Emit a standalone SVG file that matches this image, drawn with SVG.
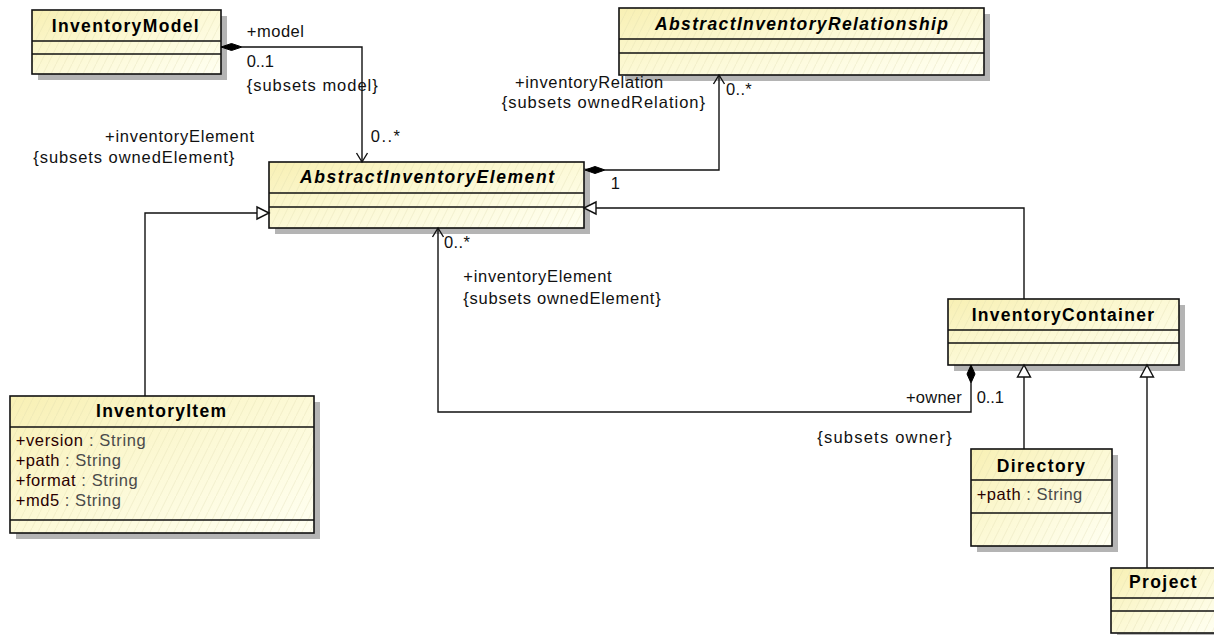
<svg xmlns="http://www.w3.org/2000/svg" width="1214" height="635" viewBox="0 0 1214 635">
<defs>
<linearGradient id="fillG" x1="0" y1="0" x2="1" y2="1">
<stop offset="0" stop-color="#f8f0b4"/>
<stop offset="0.5" stop-color="#fcf9d6"/>
<stop offset="1" stop-color="#fffff2"/>
</linearGradient>
<pattern id="hatch" patternUnits="userSpaceOnUse" width="8" height="16">
<path d="M0,16 L8,0" stroke="#dcd6a8" stroke-width="0.6" fill="none" opacity="0.55"/>
</pattern>
<style>
.shadow{fill:#b4b4b4;}
.bg{fill:url(#fillG);}
.hatch{fill:url(#hatch);}
.frame{fill:none;stroke:#111;stroke-width:1.6;}
.sep{stroke:#111;stroke-width:1.4;}
.title{font-family:"Liberation Sans",Arial,sans-serif;font-size:17.5px;font-weight:bold;fill:#000;}
.it{font-style:italic;}
.lbl{font-family:"Liberation Sans",Arial,sans-serif;font-size:16.5px;fill:#111;}
.an{fill:#2a0000;}
.at{fill:#4a4a4a;}
.line{fill:none;stroke:#111;stroke-width:1.4;}
.dia{fill:#000;stroke:#000;stroke-width:1;}
.tri{fill:#fff;stroke:#111;stroke-width:1.4;}
</style>
</defs>

<g id="InventoryModel">
<rect class="shadow" x="38" y="16" width="189" height="64"/>
<rect class="bg" x="32" y="10" width="189" height="64"/>
<rect class="hatch" x="32" y="10" width="189" height="64"/>
<line class="sep" x1="32" y1="41" x2="221" y2="41"/>
<line class="sep" x1="32" y1="54" x2="221" y2="54"/>
<rect class="frame" x="32" y="10" width="189" height="64"/>
<text class="title" x="51.7" y="31.7" textLength="147" lengthAdjust="spacing">InventoryModel</text>
</g>

<g id="AbstractInventoryRelationship">
<rect class="shadow" x="625" y="14" width="365" height="67"/>
<rect class="bg" x="619" y="8" width="365" height="67"/>
<rect class="hatch" x="619" y="8" width="365" height="67"/>
<line class="sep" x1="619" y1="39" x2="984" y2="39"/>
<line class="sep" x1="619" y1="53" x2="984" y2="53"/>
<rect class="frame" x="619" y="8" width="365" height="67"/>
<text class="title it" x="655" y="30" textLength="293" lengthAdjust="spacing">AbstractInventoryRelationship</text>
</g>

<g id="AbstractInventoryElement">
<rect class="shadow" x="275" y="168" width="315" height="66"/>
<rect class="bg" x="269" y="162" width="315" height="66"/>
<rect class="hatch" x="269" y="162" width="315" height="66"/>
<line class="sep" x1="269" y1="193" x2="584" y2="193"/>
<line class="sep" x1="269" y1="207" x2="584" y2="207"/>
<rect class="frame" x="269" y="162" width="315" height="66"/>
<text class="title it" x="300" y="183.3" textLength="254" lengthAdjust="spacing">AbstractInventoryElement</text>
</g>

<g id="InventoryContainer">
<rect class="shadow" x="954" y="305" width="231" height="66"/>
<rect class="bg" x="948" y="299" width="231" height="66"/>
<rect class="hatch" x="948" y="299" width="231" height="66"/>
<line class="sep" x1="948" y1="330" x2="1179" y2="330"/>
<line class="sep" x1="948" y1="343" x2="1179" y2="343"/>
<rect class="frame" x="948" y="299" width="231" height="66"/>
<text class="title" x="971.7" y="320.7" textLength="182.3" lengthAdjust="spacing">InventoryContainer</text>
</g>

<g id="InventoryItem">
<rect class="shadow" x="16" y="402" width="304" height="137"/>
<rect class="bg" x="10" y="396" width="304" height="137"/>
<rect class="hatch" x="10" y="396" width="304" height="137"/>
<line class="sep" x1="10" y1="427" x2="314" y2="427"/>
<line class="sep" x1="10" y1="520" x2="314" y2="520"/>
<rect class="frame" x="10" y="396" width="304" height="137"/>
<text class="title" x="96" y="416.7" textLength="130" lengthAdjust="spacing">InventoryItem</text>
<text class="lbl" x="15.7" y="446" textLength="130" lengthAdjust="spacing"><tspan class="an">+version</tspan><tspan class="at"> : String</tspan></text>
<text class="lbl" x="15.7" y="466" textLength="105.3" lengthAdjust="spacing"><tspan class="an">+path</tspan><tspan class="at"> : String</tspan></text>
<text class="lbl" x="15.7" y="486" textLength="122" lengthAdjust="spacing"><tspan class="an">+format</tspan><tspan class="at"> : String</tspan></text>
<text class="lbl" x="15.7" y="506" textLength="105.3" lengthAdjust="spacing"><tspan class="an">+md5</tspan><tspan class="at"> : String</tspan></text>
</g>

<g id="Directory">
<rect class="shadow" x="977" y="455" width="141" height="97"/>
<rect class="bg" x="971" y="449" width="141" height="97"/>
<rect class="hatch" x="971" y="449" width="141" height="97"/>
<line class="sep" x1="971" y1="480" x2="1112" y2="480"/>
<line class="sep" x1="971" y1="513" x2="1112" y2="513"/>
<rect class="frame" x="971" y="449" width="141" height="97"/>
<text class="title" x="996.7" y="471.7" textLength="88.3" lengthAdjust="spacing">Directory</text>
<text class="lbl" x="976.7" y="500" textLength="105.6" lengthAdjust="spacing"><tspan class="an">+path</tspan><tspan class="at"> : String</tspan></text>
</g>

<g id="Project">
<rect class="shadow" x="1117" y="574" width="105" height="65"/>
<rect class="bg" x="1111" y="568" width="105" height="65"/>
<rect class="hatch" x="1111" y="568" width="105" height="65"/>
<line class="sep" x1="1111" y1="598" x2="1216" y2="598"/>
<line class="sep" x1="1111" y1="611" x2="1216" y2="611"/>
<rect class="frame" x="1111" y="568" width="105" height="65"/>
<text class="title" x="1129" y="588.3" textLength="67.7" lengthAdjust="spacing">Project</text>
</g>

<g id="connectors">
<path class="line" d="M242,47 H362 V162"/>
<path class="dia" d="M221,47 L231.5,43.5 L242,47 L231.5,50.5 Z"/>
<path class="line" d="M356.5,153 L362,162 L367.5,153"/>
<path class="line" d="M605,170 H719 V75"/>
<path class="dia" d="M585,170 L595,166.5 L605,170 L595,173.5 Z"/>
<path class="line" d="M713.5,84 L719,75 L724.5,84"/>
<path class="line" d="M145,396 V213 H257"/>
<path class="tri" d="M269,213 L257,207 L257,219 Z"/>
<path class="line" d="M1024,299 V208 H596"/>
<path class="tri" d="M584,208 L596,202 L596,214 Z"/>
<path class="line" d="M971,383 V412 H438 V228"/>
<path class="dia" d="M971,365 L967,374 L971,383 L975,374 Z"/>
<path class="line" d="M432.5,237 L438,228 L443.5,237"/>
<path class="line" d="M1024,449 V377"/>
<path class="tri" d="M1024,365 L1017.5,377 L1030.5,377 Z"/>
<path class="line" d="M1147,568 V377"/>
<path class="tri" d="M1147,365 L1140.5,377 L1153.5,377 Z"/>

<text class="lbl" x="246.7" y="37.3" textLength="57.3" lengthAdjust="spacing">+model</text>
<text class="lbl" x="246.7" y="66.7" textLength="27.3" lengthAdjust="spacing">0..1</text>
<text class="lbl" x="246.7" y="91.3" textLength="131" lengthAdjust="spacing">{subsets model}</text>
<text class="lbl" x="105" y="141.7" textLength="149" lengthAdjust="spacing">+inventoryElement</text>
<text class="lbl" x="33.3" y="163.3" textLength="201" lengthAdjust="spacing">{subsets ownedElement}</text>
<text class="lbl" x="370.7" y="141.7" textLength="29.3" lengthAdjust="spacing">0..*</text>
<text class="lbl" x="515" y="88.3" textLength="148.3" lengthAdjust="spacing">+inventoryRelation</text>
<text class="lbl" x="501.7" y="108.3" textLength="203.3" lengthAdjust="spacing">{subsets ownedRelation}</text>
<text class="lbl" x="726" y="95" textLength="25.7" lengthAdjust="spacing">0..*</text>
<text class="lbl" x="610.7" y="189.3">1</text>
<text class="lbl" x="444" y="248.3" textLength="26" lengthAdjust="spacing">0..*</text>
<text class="lbl" x="463.3" y="281.7" textLength="148.4" lengthAdjust="spacing">+inventoryElement</text>
<text class="lbl" x="463.3" y="304.3" textLength="197.4" lengthAdjust="spacing">{subsets ownedElement}</text>
<text class="lbl" x="906" y="403.3" textLength="55.7" lengthAdjust="spacing">+owner</text>
<text class="lbl" x="976.7" y="403.3" textLength="27.3" lengthAdjust="spacing">0..1</text>
<text class="lbl" x="817.3" y="443.3" textLength="134.4" lengthAdjust="spacing">{subsets owner}</text>
</g>
</svg>
